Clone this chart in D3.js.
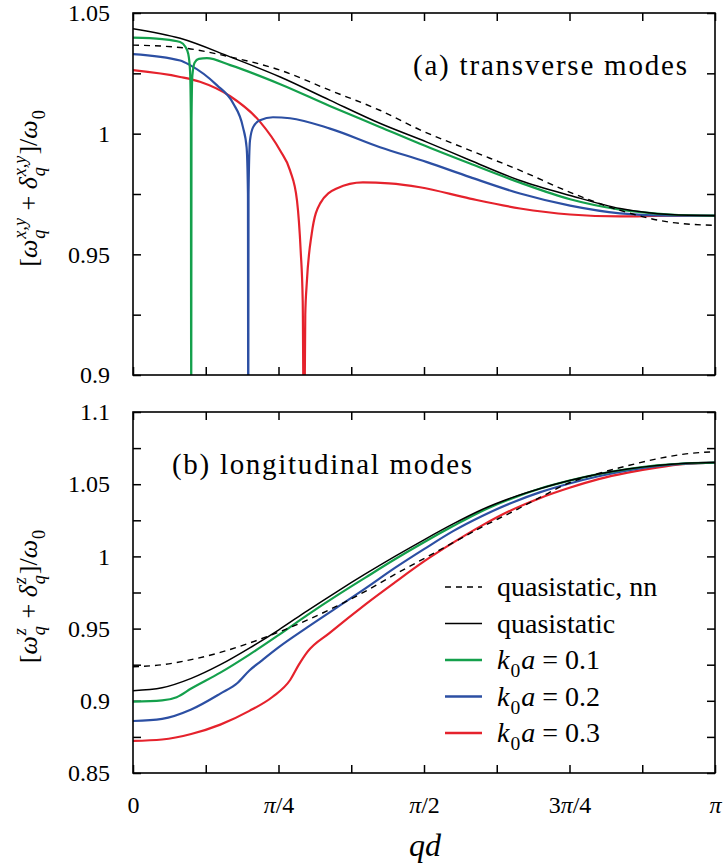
<!DOCTYPE html>
<html>
<head>
<meta charset="utf-8">
<script src="https://cdn.jsdelivr.net/npm/d3@7"></script>
<style>
  body { margin: 0; background: #fff; }
  .tick line { stroke: #000; stroke-width: 1.5; }
</style>
</head>
<body>
<div id="chart"></div>
<script>
// qd in units of pi
var xTickVals = [0, 0.125, 0.25, 0.375, 0.5, 0.625, 0.75, 0.875, 1];
var xLabelVals = [0, 0.25, 0.5, 0.75, 1];
var xLabelText = ["0", "π/4", "π/2", "3π/4", "π"];

var topYTicks = [0.9, 0.925, 0.95, 0.975, 1, 1.025, 1.05];
var topYLabelVals = [0.9, 0.95, 1, 1.05];
var topYLabelText = ["0.9", "0.95", "1", "1.05"];
var botYTicks = [0.85, 0.875, 0.9, 0.925, 0.95, 0.975, 1, 1.025, 1.05, 1.075, 1.1];
var botYLabelVals = [0.85, 0.9, 0.95, 1, 1.05, 1.1];
var botYLabelText = ["0.85", "0.9", "0.95", "1", "1.05", "1.1"];

// (a) transverse modes  [qd/pi, value]
var topNN = [[0,1.0367],[0.081,1.0357],[0.167,1.0318],[0.253,1.0263],[0.338,1.018],[0.424,1.0097],
  [0.493,1.0016],[0.579,0.9931],[0.665,0.9848],[0.751,0.9757],[0.837,0.9682],[0.923,0.9633],[1,0.962]];
var topQS = [[0,1.0435],[0.081,1.0395],[0.167,1.0318],[0.253,1.0235],[0.338,1.0139],[0.424,1.0043],
  [0.505,0.9965],[0.579,0.989],[0.665,0.9806],[0.751,0.9744],[0.837,0.969],[0.923,0.9665],[1,0.966]];
var topK1 = [[0,1.0398],[0.05,1.0392],[0.081,1.038],[0.09,1.036],[0.095,1.033],[0.098,1.026],[0.0995,1.005],
  [0.1,0.86],[0.1005,1.005],[0.102,1.024],[0.106,1.0295],[0.113,1.031],[0.127,1.0313],[0.167,1.0284],
  [0.253,1.0205],[0.338,1.0115],[0.424,1.0028],[0.493,0.9958],[0.579,0.9876],[0.665,0.9797],
  [0.751,0.9728],[0.837,0.9685],[0.923,0.9665],[1,0.966]];
var topK2 = [[0,1.033],[0.081,1.0303],[0.098,1.0284],[0.144,1.0201],[0.172,1.0126],[0.189,1.0026],
  [0.1952,0.9943],[0.1975,0.975],[0.198,0.86],[0.1985,0.975],[0.201,0.9972],[0.2062,1.0026],
  [0.2182,1.0056],[0.2405,1.0068],[0.2698,1.0064],[0.3385,1.0021],[0.4244,0.9944],[0.5052,0.9882],
  [0.579,0.982],[0.665,0.9752],[0.751,0.9702],[0.837,0.967],[0.923,0.966],[1,0.966]];
var topK3 = [[0,1.0263],[0.081,1.0235],[0.115,1.0215],[0.167,1.0155],[0.218,1.005],[0.2526,0.9931],
  [0.2698,0.9848],[0.2818,0.9723],[0.2881,0.9515],[0.2916,0.9308],[0.2938,0.86],[0.296,0.925],
  [0.2985,0.9378],[0.3071,0.9586],[0.3213,0.971],[0.35,0.9773],[0.395,0.9798],[0.44,0.9794],
  [0.493,0.9778],[0.579,0.9731],[0.665,0.969],[0.751,0.9665],[0.837,0.9657],[0.923,0.966],[1,0.966]];

// (b) longitudinal modes
var botNN = [[0,0.9236],[0.05,0.925],[0.1,0.9285],[0.15,0.9335],[0.2,0.94],[0.25,0.9475],[0.3,0.956],
  [0.35,0.9655],[0.4,0.976],[0.45,0.9875],[0.5,0.9985],[0.55,1.0095],[0.6,1.0205],[0.65,1.0305],
  [0.7,1.041],[0.75,1.051],[0.8,1.0575],[0.85,1.0628],[0.9,1.0675],[0.95,1.071],[1,1.0725]];
var botQS = [[0,0.907],[0.05,0.909],[0.1,0.9155],[0.15,0.925],[0.2,0.9365],[0.25,0.949],[0.3,0.9625],
  [0.35,0.9755],[0.4,0.988],[0.45,1.0],[0.5,1.0115],[0.55,1.0225],[0.6,1.0325],[0.65,1.0405],
  [0.7,1.047],[0.75,1.0525],[0.8,1.057],[0.85,1.0605],[0.9,1.063],[0.95,1.0645],[1,1.065]];
var botK1 = [[0,0.8994],[0.05,0.9003],[0.075,0.9025],[0.1,0.9085],[0.15,0.9195],[0.2,0.932],[0.25,0.9455],
  [0.3,0.9595],[0.35,0.9728],[0.4,0.9855],[0.45,0.998],[0.5,1.0098],[0.55,1.021],[0.6,1.0315],
  [0.65,1.04],[0.7,1.047],[0.75,1.0525],[0.8,1.057],[0.85,1.0605],[0.9,1.063],[0.95,1.0645],[1,1.065]];
var botK2 = [[0,0.886],[0.05,0.8875],[0.1,0.894],[0.15,0.905],[0.18,0.9125],[0.2,0.921],[0.22,0.9275],
  [0.25,0.937],[0.3,0.951],[0.35,0.9645],[0.4,0.978],[0.45,0.992],[0.5,1.005],[0.55,1.0175],[0.6,1.028],
  [0.65,1.037],[0.7,1.0445],[0.75,1.0505],[0.8,1.0555],[0.85,1.0595],[0.9,1.0625],[0.95,1.0643],[1,1.065]];
var botK3 = [[0,0.8722],[0.05,0.8732],[0.1,0.877],[0.15,0.8835],[0.2,0.893],[0.24,0.9028],[0.27,0.9144],
  [0.285,0.925],[0.3,0.934],[0.338,0.947],[0.4,0.967],[0.45,0.982],[0.5,0.9965],[0.55,1.0095],
  [0.6,1.0215],[0.65,1.032],[0.7,1.0405],[0.75,1.0475],[0.8,1.0535],[0.85,1.058],[0.9,1.0615],
  [0.95,1.064],[1,1.0649]];

var colors = {nn: "#000", qs: "#000", k1: "#14a04c", k2: "#2c4fa3", k3: "#e5222c"};
var FONT = "'Liberation Serif'";

var W = 726, H = 866;
var left = 133, right = 715;

var svg = d3.select("#chart").append("svg")
    .attr("width", W)
    .attr("height", H);

var x = d3.scaleLinear().domain([0, 1]).range([left, right]);

// draws math-ish text piece by piece, returns group
function mathText(parent, parts, size) {
    var g = parent.append("g");
    var cur = 0;
    parts.forEach(function(p) {
        if (p.s !== undefined) {
            var t = g.append("text").attr("x", cur).attr("y", 0)
                .style("font-family", FONT)
                .style("font-size", size + "px")
                .style("font-style", p.it ? "italic" : "normal")
                .text(p.s);
            cur += t.node().getComputedTextLength() + (p.pad || 0);
        } else {
            var w1 = 0, w2 = 0;
            var ss = size * 0.7;
            if (p.sup) {
                var t1 = g.append("text").attr("x", cur + 1).attr("y", -size * 0.42)
                    .style("font-family", FONT)
                    .style("font-size", ss + "px").style("font-style", "italic").text(p.sup);
                w1 = t1.node().getComputedTextLength();
            }
            if (p.sub) {
                var t2 = g.append("text").attr("x", cur + 1).attr("y", size * 0.3)
                    .style("font-family", FONT)
                    .style("font-size", ss + "px").style("font-style", p.subUp ? "normal" : "italic").text(p.sub);
                w2 = t2.node().getComputedTextLength();
            }
            cur += Math.max(w1, w2) + 2;
        }
    });
    g.attr("data-w", cur);
    return g;
}

function panel(y0, y1, yDom, yTicks, yLabVals, yLabText, showX, series) {
    var y = d3.scaleLinear().domain(yDom).range([y1, y0]);
    var g = svg.append("g");
    var id = "clip" + y0;
    svg.append("clipPath").attr("id", id).append("rect")
        .attr("x", left).attr("y", y0).attr("width", right - left).attr("height", y1 - y0);

    var lab = function(list, text) {
        return function(d) {
            var i = list.findIndex(function(v) { return Math.abs(v - d) < 1e-6; });
            return i < 0 ? "" : text[i];
        };
    };

    g.append("g").attr("transform", "translate(" + left + ",0)")
        .call(d3.axisLeft(y).tickValues(yTicks).tickSize(-8).tickSizeOuter(0).tickPadding(23)
            .tickFormat(lab(yLabVals, yLabText)));
    g.append("g").attr("transform", "translate(" + right + ",0)")
        .call(d3.axisRight(y).tickValues(yTicks).tickSize(-8).tickSizeOuter(0).tickFormat(""));
    g.append("g").attr("transform", "translate(0," + y0 + ")")
        .call(d3.axisTop(x).tickValues(xTickVals).tickSize(-8).tickSizeOuter(0).tickFormat(""));
    var xb = g.append("g").attr("transform", "translate(0," + y1 + ")")
        .call(d3.axisBottom(x).tickValues(xTickVals).tickSize(-8).tickSizeOuter(0).tickPadding(23)
            .tickFormat(showX ? lab(xLabelVals, xLabelText) : ""));
    g.selectAll(".domain").remove();
    g.selectAll(".tick text").attr("fill", "#000")
        .style("font-family", FONT).style("font-size", "24px");
    if (showX) {
        // italic pi inside tick labels
        xb.selectAll(".tick text").each(function() {
            var el = d3.select(this);
            var s = el.text();
            if (s.indexOf("π") < 0) return;
            var bits = s.split("π");
            el.text(null);
            if (bits[0]) el.append("tspan").text(bits[0]);
            el.append("tspan").style("font-style", "italic").text("π");
            if (bits[1]) el.append("tspan").text(bits[1]);
        });
    }

    var line = d3.line()
        .x(function(d) { return x(d[0]); })
        .y(function(d) { return y(d[1]); })
        .curve(d3.curveMonotoneX);

    var lines = svg.append("g").attr("clip-path", "url(#" + id + ")");
    series.forEach(function(s) {
        lines.append("path")
            .datum(s.data)
            .attr("fill", "none")
            .attr("stroke", s.color)
            .attr("stroke-width", s.w)
            .attr("stroke-dasharray", s.dash || null)
            .attr("d", line);
    });

    svg.append("rect")
        .attr("x", left).attr("y", y0)
        .attr("width", right - left).attr("height", y1 - y0)
        .attr("fill", "none").attr("stroke", "#000").attr("stroke-width", 1.6);
}

panel(13, 375, [0.9, 1.05], topYTicks, topYLabelVals, topYLabelText, false, [
    {data: topK3, color: colors.k3, w: 2.2},
    {data: topK2, color: colors.k2, w: 2.2},
    {data: topK1, color: colors.k1, w: 2.2},
    {data: topQS, color: colors.qs, w: 1.5},
    {data: topNN, color: colors.nn, w: 1.4, dash: "6,5"}
]);

panel(412, 773, [0.85, 1.1], botYTicks, botYLabelVals, botYLabelText, true, [
    {data: botK3, color: colors.k3, w: 2.2},
    {data: botK2, color: colors.k2, w: 2.2},
    {data: botK1, color: colors.k1, w: 2.2},
    {data: botQS, color: colors.qs, w: 1.5},
    {data: botNN, color: colors.nn, w: 1.4, dash: "6,5"}
]);

// panel labels
svg.append("text").attr("x", 413).attr("y", 75)
    .style("font-family", FONT).style("font-size", "29px")
    .attr("textLength", 274).attr("lengthAdjust", "spacing")
    .text("(a) transverse modes");
svg.append("text").attr("x", 172).attr("y", 474)
    .style("font-family", FONT).style("font-size", "29px")
    .attr("textLength", 300).attr("lengthAdjust", "spacing")
    .text("(b) longitudinal modes");

// y titles
var NB = "\u00a0";
function yTitle(cy, parts) {
    var g = svg.append("g");
    var m = mathText(g, parts, 26);
    var w = +m.attr("data-w");
    g.attr("transform", "translate(37," + cy + ") rotate(-90)");
    m.attr("transform", "translate(" + (-w / 2) + ",0)");
}
yTitle(188, [
    {s: "["}, {s: "ω", it: true}, {sup: "x,y", sub: "q"},
    {s: NB + "+" + NB}, {s: "δ", it: true}, {sup: "x,y", sub: "q"},
    {s: "]/"}, {s: "ω", it: true}, {sub: "0", subUp: true}
]);
yTitle(596, [
    {s: "["}, {s: "ω", it: true}, {sup: "z", sub: "q"},
    {s: NB + "+" + NB}, {s: "δ", it: true}, {sup: "z", sub: "q"},
    {s: "]/"}, {s: "ω", it: true}, {sub: "0", subUp: true}
]);

// x title
var xt = mathText(svg, [{s: "qd", it: true}], 32);
xt.attr("transform", "translate(" + (425 - (+xt.attr("data-w")) / 2) + ",856)");

// legend
var legendItems = [
    {parts: [{s: "quasistatic," + NB + "nn"}], color: colors.nn, w: 1.4, dash: "6,5"},
    {parts: [{s: "quasistatic"}], color: colors.qs, w: 1.5},
    {parts: [{s: "k", it: true}, {sub: "0", subUp: true}, {s: "a", it: true}, {s: NB + "=" + NB + "0.1"}], color: colors.k1, w: 2.4},
    {parts: [{s: "k", it: true}, {sub: "0", subUp: true}, {s: "a", it: true}, {s: NB + "=" + NB + "0.2"}], color: colors.k2, w: 2.4},
    {parts: [{s: "k", it: true}, {sub: "0", subUp: true}, {s: "a", it: true}, {s: NB + "=" + NB + "0.3"}], color: colors.k3, w: 2.4}
];
var legY = d3.scalePoint().domain(d3.range(legendItems.length)).range([587, 733]);
legendItems.forEach(function(it, i) {
    svg.append("line")
        .attr("x1", 445).attr("x2", 482)
        .attr("y1", legY(i)).attr("y2", legY(i))
        .attr("stroke", it.color).attr("stroke-width", it.w)
        .attr("stroke-dasharray", it.dash || null);
    var t = mathText(svg, it.parts, 28);
    t.attr("transform", "translate(497," + (legY(i) + 9) + ")");
});
</script>
</body>
</html>
